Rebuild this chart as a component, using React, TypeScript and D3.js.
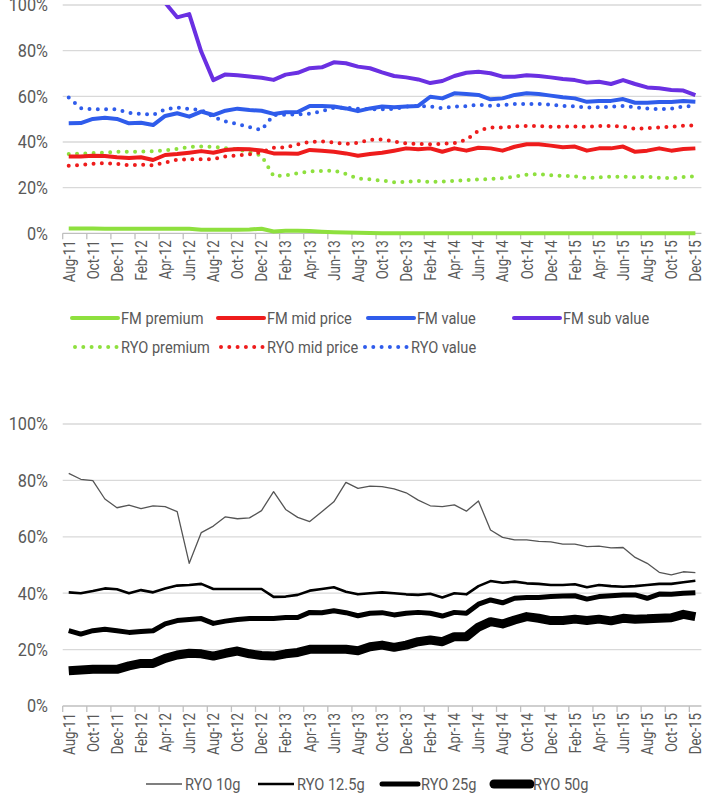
import React from "react";
import * as d3 from "d3";

const months = [
  "Aug-11","Sep-11","Oct-11","Nov-11","Dec-11",
  "Jan-12","Feb-12","Mar-12","Apr-12","May-12","Jun-12","Jul-12","Aug-12","Sep-12","Oct-12","Nov-12","Dec-12",
  "Jan-13","Feb-13","Mar-13","Apr-13","May-13","Jun-13","Jul-13","Aug-13","Sep-13","Oct-13","Nov-13","Dec-13",
  "Jan-14","Feb-14","Mar-14","Apr-14","May-14","Jun-14","Jul-14","Aug-14","Sep-14","Oct-14","Nov-14","Dec-14",
  "Jan-15","Feb-15","Mar-15","Apr-15","May-15","Jun-15","Jul-15","Aug-15","Sep-15","Oct-15","Nov-15","Dec-15",
];

const yTicks = [0, 0.2, 0.4, 0.6, 0.8, 1.0];

// Top chart series (percent)
const fmPremium = [2.1,2.1,2.1,2.0,2.0,2.0,2.0,2.0,2.0,2.0,2.0,1.6,1.6,1.6,1.6,1.7,2.0,0.8,1.1,1.1,1.0,0.7,0.5,0.3,0.2,0.1,0,0,0,0,0,0,0,0,0,0,0,0,0,0,0,0,0,0,0,0,0,0,0,0,0,0,0];
const fmMidPrice = [33.6,33.6,34,33.9,33.3,33,33.3,32.1,34.3,34.7,35.3,36,35.3,36.5,36.9,36.8,36.3,35,35,34.8,36.5,36.2,35.7,35,34,34.7,35.3,36.2,37.2,36.8,37.2,35.7,37.2,36.2,37.5,37.2,36.2,37.9,39,39,38.4,37.7,38,36.2,37.2,37.2,38,35.7,36.2,37.2,36.2,36.9,37.2];
const fmValue = [48.2,48.3,50.1,50.6,50.1,48.2,48.4,47.4,51.4,52.6,51.1,53.3,51.8,53.7,54.6,54,53.7,52.3,53,53.1,55.8,55.8,55.5,54.7,53.5,54.7,55.5,55.2,55.5,55.8,59.8,59.1,61.3,61,60.6,58.7,59.1,60.6,61.3,61,60.3,59.6,59.1,57.6,58,58,58.8,57.2,57.2,57.5,57.5,57.9,57.6];
const fmSubValue: (number | null)[] = [null,null,null,null,null,null,null,103,101,94.6,96,79.5,67.1,69.6,69.2,68.7,68.1,67.2,69.5,70.3,72.3,72.7,74.9,74.5,73,72.3,70.5,68.9,68.3,67.4,65.8,66.7,68.9,70.3,70.8,70.1,68.6,68.6,69.2,68.9,68.3,67.6,67.1,66,66.4,65.4,67.1,65.4,63.9,63.5,62.8,62.5,60.5];
const ryoPremium = [34.7,34.9,35.1,35.4,35.7,35.7,35.8,36,36.3,37,37.8,38,37.9,37.3,36.8,35.5,34,25,25.4,26.3,27.1,27.3,27.5,26,24,23.6,23.1,22.4,22.5,22.9,22.5,22.7,22.9,23.3,23.6,23.8,24.1,24.8,25.7,26,25.4,25.2,25,24.1,24.5,24.8,24.8,24.5,24.8,24.3,24.1,24.6,25];
const ryoMidPrice = [29.6,29.9,30.4,30.8,30.4,29.8,30.1,29.8,31,32.2,32.5,32.4,32.5,33.7,34.1,34.6,35.5,37.5,37.6,39,40,40.2,39.8,39.1,39.6,41,41.1,40.2,39.4,39.1,39,39.2,39.5,41,45,46.3,46.4,46.8,47,47,46.7,46.7,46.8,46.6,47,47,46.7,45.7,46.1,46.4,46.7,47.1,47.2];
const ryoValue = [59.5,54.8,54.3,54.4,54.3,52.8,52.3,51.9,54.3,55.1,54.4,54,51,49,47.9,46.5,45.2,51.8,52,52,52.4,53.5,55,55,54.6,54.3,54.3,54.5,55.5,55.8,55.6,54.8,55.5,55.7,56.4,55.8,56.2,56.6,56.6,56.6,56.4,55.8,55.6,55.1,55.2,55.5,55.8,55.2,54.7,54.4,54.6,55.6,55.8];

// Bottom chart series (percent)
const ryo10g = [82.5,80.4,79.9,73.4,70.3,71.2,70,71,70.7,68.9,50.6,61.5,63.8,67.1,66.4,66.7,69.3,76,69.7,66.9,65.4,68.9,72.4,79.3,77.2,78,77.8,77,75.6,73,71,70.7,71.3,69.1,72.7,62.4,59.8,58.9,58.9,58.4,58.2,57.4,57.4,56.5,56.7,56.1,56.2,52.7,50.6,47.4,46.5,47.6,47.3];
const ryo12g = [40.3,40,40.8,41.7,41.4,40,41.1,40.3,41.7,42.7,42.9,43.3,41.5,41.5,41.5,41.5,41.5,38.7,38.8,39.4,40.9,41.5,42.1,40.5,39.6,40,40.3,40,39.6,39.4,39.8,38.5,40,39.6,42.5,44.3,43.7,44.1,43.5,43.3,42.9,42.9,43.2,42.1,42.9,42.5,42.3,42.5,42.9,43.3,43.3,43.9,44.4];
const ryo25g = [26.7,25.5,26.7,27.2,26.7,26.1,26.4,26.7,29.1,30.3,30.7,31,29.3,30.1,30.7,31,31,31,31.4,31.4,33.2,33.1,33.8,33.1,32,32.9,33.1,32.3,32.9,33.2,32.9,31.9,33.2,32.9,36.1,37.6,36.6,38.2,38.5,38.5,38.8,39,39.1,37.9,38.8,39.1,39.4,39.4,38.2,39.7,39.6,40,40.2];
const ryo50g = [12.5,12.8,13,13,13,14.2,15.1,15.1,16.9,18.1,18.7,18.5,17.7,18.7,19.5,18.5,17.9,17.7,18.5,19,20.1,20.1,20.1,20.1,19.6,21,21.6,20.8,21.6,22.8,23.4,22.8,24.6,24.6,28,29.9,29.1,30.5,31.7,31.1,30.3,30.3,30.8,30.3,30.8,30.2,31.1,30.8,30.9,31.1,31.3,32.5,31.7];

const FONT = "Roboto, 'Liberation Sans', sans-serif";
const TEXT = "#595959";
const GRID = "#D9D9D9";
const GREEN = "#8EE03E";
const RED = "#EE1C1C";
const BLUE = "#2F5CEB";
const PURPLE = "#6A30E2";
const SX = 0.86; // horizontal squeeze to mimic a narrow face

type Series = { name: string; values: (number | null)[]; color: string; width: number; dotted?: boolean };

const topSeries: Series[] = [
  { name: "FM premium", values: fmPremium, color: GREEN, width: 4 },
  { name: "FM mid price", values: fmMidPrice, color: RED, width: 4 },
  { name: "FM value", values: fmValue, color: BLUE, width: 4 },
  { name: "FM sub value", values: fmSubValue, color: PURPLE, width: 4 },
  { name: "RYO premium", values: ryoPremium, color: GREEN, width: 4, dotted: true },
  { name: "RYO mid price", values: ryoMidPrice, color: RED, width: 4, dotted: true },
  { name: "RYO value", values: ryoValue, color: BLUE, width: 4, dotted: true },
];
const topDrawOrder = [4, 5, 6, 0, 1, 2, 3];

const bottomSeries: Series[] = [
  { name: "RYO 10g", values: ryo10g, color: "#555555", width: 1.3 },
  { name: "RYO 12.5g", values: ryo12g, color: "#000000", width: 2.6 },
  { name: "RYO 25g", values: ryo25g, color: "#000000", width: 5 },
  { name: "RYO 50g", values: ryo50g, color: "#000000", width: 9 },
];

const X0 = 62.7;
const X1 = 701.4;

const xBand = d3.scaleBand<string>().domain(months).range([X0, X1]).paddingInner(0).paddingOuter(0);
const cx = (m: string) => (xBand(m) as number) + xBand.bandwidth() / 2;

function Panel({ yTop, yBottom, series, order, clipId }: { yTop: number; yBottom: number; series: Series[]; order: number[]; clipId: string }) {
  const y = d3.scaleLinear().domain([0, 1]).range([yBottom, yTop]);
  const line = d3
    .line<number | null>()
    .defined((d) => d !== null)
    .x((_, i) => cx(months[i]))
    .y((d) => y((d as number) / 100))
    .curve(d3.curveLinear);
  return (
    <g>
      <defs>
        <clipPath id={clipId}>
          <rect x={X0 - 10} y={yTop} width={X1 - X0 + 20} height={yBottom - yTop + 10} />
        </clipPath>
      </defs>
      {yTicks.map((t) => (
        <g key={t}>
          <line x1={X0} x2={X1} y1={y(t)} y2={y(t)} stroke={t === 0 ? "#BFBFBF" : GRID} strokeWidth={1.3} />
          <text
            transform={`translate(48,${y(t)}) scale(0.93,1)`}
            dy="0.36em"
            textAnchor="end"
            fontFamily={FONT}
            fontSize={17.5}
            fill={TEXT}
          >
            {d3.format(".0%")(t)}
          </text>
        </g>
      ))}
      {months.map((m, i) =>
        i % 2 === 0 ? (
          <g key={m}>
            <line x1={xBand(m) as number} x2={xBand(m) as number} y1={yBottom} y2={yBottom + 6} stroke="#BFBFBF" strokeWidth={1.3} />
            <text
              transform={`translate(${cx(m)},${yBottom + 7}) rotate(-90) scale(0.82,1)`}
              dy="0.36em"
              textAnchor="end"
              fontFamily={FONT}
              fontSize={16.2}
              fill={TEXT}
            >
              {m}
            </text>
          </g>
        ) : null
      )}
      <g clipPath={`url(#${clipId})`}>
        {order.map((k) => {
          const s = series[k];
          return (
            <path
              key={s.name}
              d={line(s.values) || ""}
              fill="none"
              stroke={s.color}
              strokeWidth={s.width}
              strokeLinejoin="round"
              strokeLinecap={s.dotted ? "round" : "butt"}
              strokeDasharray={s.dotted ? "0 8.3" : undefined}
            />
          );
        })}
      </g>
    </g>
  );
}

const topLegendPos = [
  { x: 72, y: 318 },
  { x: 218, y: 318 },
  { x: 368, y: 318 },
  { x: 514, y: 318 },
  { x: 72, y: 347 },
  { x: 218, y: 347 },
  { x: 362, y: 347 },
];
const bottomLegendPos = [
  { x: 146, y: 784 },
  { x: 258, y: 784 },
  { x: 382, y: 784 },
  { x: 494, y: 784 },
];

function LegendItem({ s, x, y, len }: { s: Series; x: number; y: number; len: number }) {
  return (
    <g>
      <line
        x1={x + (s.dotted ? 3 : 0)}
        x2={x + len}
        y1={y}
        y2={y}
        stroke={s.color}
        strokeWidth={s.width}
        strokeLinecap={s.dotted || s.width > 3 ? "round" : "butt"}
        strokeDasharray={s.dotted ? "0 8.3" : undefined}
      />
      <text
        transform={`translate(${x + len + 3},${y}) scale(${SX},1)`}
        dy="0.36em"
        fontFamily={FONT}
        fontSize={17}
        fill={TEXT}
      >
        {s.name}
      </text>
    </g>
  );
}

export default function App() {
  return (
    <svg
      width={708}
      height={803}
      style={{ position: "absolute", left: 0, top: 0, background: "#ffffff" }}
    >
      <rect width={708} height={803} fill="#ffffff" />
      <Panel yTop={5} yBottom={233.3} series={topSeries} order={topDrawOrder} clipId="clipTop" />
      {topSeries.map((s, i) => (
        <LegendItem key={s.name} s={s} x={topLegendPos[i].x} y={topLegendPos[i].y} len={46} />
      ))}
      <Panel yTop={424} yBottom={706} series={bottomSeries} order={[0, 1, 2, 3]} clipId="clipBottom" />
      {bottomSeries.map((s, i) => (
        <LegendItem key={s.name} s={s} x={bottomLegendPos[i].x} y={bottomLegendPos[i].y} len={36} />
      ))}
    </svg>
  );
}
